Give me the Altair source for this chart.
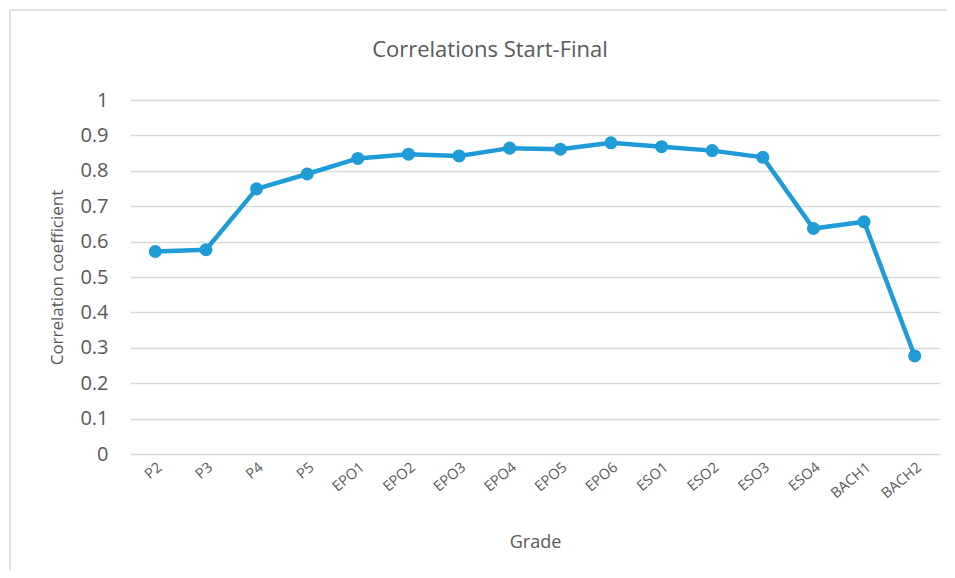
import altair as alt
import pandas as pd

grades = ["P2", "P3", "P4", "P5", "EPO1", "EPO2", "EPO3", "EPO4", "EPO5", "EPO6",
          "ESO1", "ESO2", "ESO3", "ESO4", "BACH1", "BACH2"]
corr = [0.572, 0.577, 0.749, 0.791, 0.835, 0.847, 0.842, 0.864, 0.861, 0.879,
        0.868, 0.857, 0.838, 0.637, 0.656, 0.277]
y_ticks = [0, 0.1, 0.2, 0.3, 0.4, 0.5, 0.6, 0.7, 0.8, 0.9, 1]
title_text = ["Correlations Start-Final"]

df = pd.DataFrame({"Grade": grades, "Correlation": corr})

FONT = "Open Sans"
GREY = "#595959"
BLUE = "#1f9bd7"

x_enc = alt.X("Grade:N", sort=grades,
              scale=alt.Scale(paddingInner=0, paddingOuter=0.5, align=0.5),
              axis=alt.Axis(title="Grade", labelAngle=-40, labelFont=FONT,
                            labelFontSize=14.5, labelColor=GREY, ticks=False,
                            domain=False, labelPadding=6, titleFont=FONT,
                            titleFontSize=18, titleFontWeight="normal",
                            titleColor=GREY, titlePadding=33, grid=False))
y_enc = alt.Y("Correlation:Q",
              scale=alt.Scale(domain=[0, 1], nice=False),
              axis=alt.Axis(title="Correlation coefficient", values=y_ticks,
                            format="~g", labelFont=FONT, labelFontSize=20,
                            labelColor=GREY, ticks=False, domain=False,
                            labelPadding=22, titleFont=FONT, titleFontSize=17,
                            titleFontWeight="normal", titleColor=GREY,
                            titlePadding=13, grid=True, gridColor="#d9d9d9",
                            gridWidth=1.5))

base = alt.Chart(df)
line = base.mark_line(color=BLUE, strokeWidth=4.5).encode(x=x_enc, y=y_enc)
pts = base.mark_circle(color=BLUE, size=170, opacity=1).encode(x=x_enc, y=y_enc)

frame = alt.Chart(pd.DataFrame({"a": [0]})).mark_rect(
    fill=None, stroke="#d9d9d9", strokeWidth=1.5
).encode(x=alt.value(-120), x2=alt.value(860), y=alt.value(-90), y2=alt.value(600))

title = alt.Chart(pd.DataFrame({"t": title_text})).mark_text(
    font=FONT, fontSize=22, color=GREY, align="center", baseline="middle"
).encode(text="t:N", x=alt.value(360), y=alt.value(-50))

chart = alt.layer(frame, line, pts, title).properties(
    width=810, height=354,
    autosize=alt.AutoSizeParams(type="none"),
    padding={"left": 122, "top": 92, "right": 7, "bottom": 116},
).configure(background="white").configure_view(stroke=None)

chart.save("out.html", embed_options={"renderer": "svg", "actions": False})
